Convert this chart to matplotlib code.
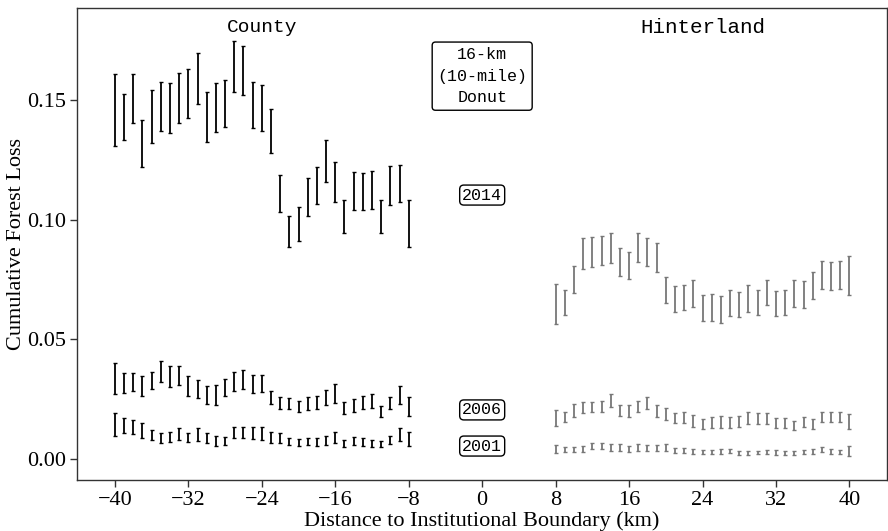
#
# Cumulative forest loss by distance to the institutional boundary
#    - error bars for 2001, 2006 and 2014, county side vs. hinterland side
#

import matplotlib
matplotlib.use('Agg')
import matplotlib.pyplot as plt
import numpy as np

# distance bins (km)
countyDist = list(range(-40, -7))
hinterDist = list(range(8, 41))

# county side, lower / upper ends of each interval
county2014Lo = [0.1310, 0.1334, 0.1404, 0.1221, 0.1322, 0.1371, 0.1361, 0.1404, 0.1426, 0.1482, 0.1325,
                0.1368, 0.1386, 0.1534, 0.1522, 0.1383, 0.1369, 0.1277, 0.1032, 0.0886, 0.0912, 0.1014,
                0.1066, 0.1158, 0.1074, 0.0943, 0.1039, 0.1041, 0.1046, 0.0944, 0.1061, 0.1075, 0.0886]
county2014Hi = [0.1611, 0.1527, 0.1608, 0.1417, 0.1541, 0.1577, 0.1570, 0.1614, 0.1631, 0.1697, 0.1535,
                0.1571, 0.1582, 0.1748, 0.1728, 0.1574, 0.1563, 0.1463, 0.1187, 0.1014, 0.1052, 0.1176,
                0.1219, 0.1333, 0.1241, 0.1084, 0.1201, 0.1197, 0.1205, 0.1084, 0.1224, 0.1229, 0.1082]

county2006Lo = [0.0272, 0.0277, 0.0285, 0.0263, 0.0292, 0.0320, 0.0301, 0.0311, 0.0265, 0.0255, 0.0228,
                0.0226, 0.0262, 0.0285, 0.0292, 0.0276, 0.0279, 0.0230, 0.0207, 0.0207, 0.0198, 0.0205,
                0.0207, 0.0226, 0.0233, 0.0187, 0.0195, 0.0209, 0.0212, 0.0177, 0.0207, 0.0230, 0.0180]
county2006Hi = [0.0400, 0.0358, 0.0361, 0.0347, 0.0365, 0.0410, 0.0390, 0.0390, 0.0347, 0.0330, 0.0306,
                0.0309, 0.0334, 0.0362, 0.0370, 0.0351, 0.0351, 0.0286, 0.0260, 0.0256, 0.0244, 0.0258,
                0.0265, 0.0288, 0.0312, 0.0237, 0.0251, 0.0263, 0.0270, 0.0223, 0.0260, 0.0306, 0.0258]

county2001Lo = [0.0098, 0.0107, 0.0103, 0.0088, 0.0079, 0.0068, 0.0071, 0.0079, 0.0071, 0.0075, 0.0066,
                0.0056, 0.0060, 0.0086, 0.0086, 0.0082, 0.0079, 0.0068, 0.0068, 0.0059, 0.0054, 0.0058,
                0.0056, 0.0060, 0.0066, 0.0051, 0.0059, 0.0054, 0.0051, 0.0049, 0.0063, 0.0075, 0.0056]
county2001Hi = [0.0191, 0.0173, 0.0163, 0.0149, 0.0121, 0.0110, 0.0114, 0.0128, 0.0110, 0.0131, 0.0110,
                0.0096, 0.0093, 0.0132, 0.0132, 0.0132, 0.0132, 0.0111, 0.0107, 0.0089, 0.0084, 0.0086,
                0.0086, 0.0096, 0.0111, 0.0079, 0.0091, 0.0086, 0.0079, 0.0075, 0.0098, 0.0131, 0.0111]

# hinterland side
hinter2014Lo = [0.0565, 0.0602, 0.0694, 0.0794, 0.0804, 0.0811, 0.0820, 0.0763, 0.0752, 0.0822, 0.0807,
                0.0781, 0.0653, 0.0614, 0.0623, 0.0635, 0.0575, 0.0575, 0.0568, 0.0598, 0.0592, 0.0614,
                0.0602, 0.0642, 0.0598, 0.0603, 0.0637, 0.0632, 0.0667, 0.0710, 0.0706, 0.0710, 0.0685]
hinter2014Hi = [0.0730, 0.0706, 0.0808, 0.0922, 0.0928, 0.0932, 0.0943, 0.0880, 0.0866, 0.0943, 0.0925,
                0.0901, 0.0762, 0.0723, 0.0728, 0.0749, 0.0685, 0.0691, 0.0681, 0.0705, 0.0699, 0.0726,
                0.0707, 0.0749, 0.0702, 0.0705, 0.0747, 0.0744, 0.0783, 0.0826, 0.0823, 0.0826, 0.0847]

hinter2006Lo = [0.0139, 0.0156, 0.0177, 0.0191, 0.0198, 0.0198, 0.0216, 0.0180, 0.0177, 0.0195, 0.0207,
                0.0177, 0.0163, 0.0149, 0.0149, 0.0135, 0.0127, 0.0128, 0.0131, 0.0131, 0.0135, 0.0145,
                0.0145, 0.0145, 0.0128, 0.0128, 0.0121, 0.0135, 0.0125, 0.0156, 0.0153, 0.0153, 0.0124]
hinter2006Hi = [0.0205, 0.0198, 0.0228, 0.0240, 0.0240, 0.0244, 0.0272, 0.0226, 0.0226, 0.0244, 0.0260,
                0.0226, 0.0212, 0.0193, 0.0195, 0.0184, 0.0166, 0.0174, 0.0180, 0.0174, 0.0181, 0.0198,
                0.0193, 0.0191, 0.0170, 0.0170, 0.0160, 0.0174, 0.0166, 0.0198, 0.0195, 0.0198, 0.0188]

hinter2001Lo = [0.0024, 0.0028, 0.0028, 0.0031, 0.0040, 0.0040, 0.0035, 0.0035, 0.0031, 0.0035, 0.0033,
                0.0033, 0.0033, 0.0024, 0.0024, 0.0021, 0.0021, 0.0021, 0.0021, 0.0024, 0.0017, 0.0017,
                0.0020, 0.0021, 0.0017, 0.0017, 0.0017, 0.0021, 0.0021, 0.0031, 0.0021, 0.0021, 0.0013]
hinter2001Hi = [0.0059, 0.0052, 0.0052, 0.0054, 0.0065, 0.0065, 0.0061, 0.0061, 0.0056, 0.0061, 0.0059,
                0.0059, 0.0061, 0.0045, 0.0045, 0.0042, 0.0038, 0.0038, 0.0040, 0.0042, 0.0033, 0.0035,
                0.0035, 0.0038, 0.0038, 0.0033, 0.0035, 0.0038, 0.0040, 0.0052, 0.0040, 0.0038, 0.0056]

yearLabels = ['2014', '2006', '2001']
yearLabelY = [0.1103, 0.0205, 0.0054]

xTicks = [-40, -32, -24, -16, -8, 0, 8, 16, 24, 32, 40]
yTicks = [0.00, 0.05, 0.10, 0.15]


def drawBars(ax, x, lo, hi, color):
	lo = np.array(lo)
	hi = np.array(hi)
	mid = (lo + hi) / 2
	ax.errorbar(x, mid, yerr=(hi - lo) / 2, fmt='none', ecolor=color,
		elinewidth=1.3, capsize=1.3, capthick=1.0)


plt.rcParams['font.family'] = ['Liberation Serif', 'DejaVu Serif']
mono = ['Liberation Mono', 'DejaVu Sans Mono']

fig = plt.figure(figsize=(8.88, 5.31), dpi=100)
ax = fig.add_axes([0.087, 0.096, 0.912, 0.889])

drawBars(ax, countyDist, county2014Lo, county2014Hi, 'black')
drawBars(ax, countyDist, county2006Lo, county2006Hi, 'black')
drawBars(ax, countyDist, county2001Lo, county2001Hi, 'black')
drawBars(ax, hinterDist, hinter2014Lo, hinter2014Hi, '#777777')
drawBars(ax, hinterDist, hinter2006Lo, hinter2006Hi, '#777777')
drawBars(ax, hinterDist, hinter2001Lo, hinter2001Hi, '#777777')

ax.text(-24, 0.1805, 'County', family=mono, fontsize=14, ha='center', va='center')
ax.text(24, 0.1805, 'Hinterland', family=mono, fontsize=15, ha='center', va='center')

ax.text(0, 0.160, '16-km\n(10-mile)\nDonut', family=mono, fontsize=12, ha='center', va='center',
	linespacing=1.55, bbox=dict(boxstyle='round,pad=0.3,rounding_size=0.2', fc='white', ec='black', lw=1))

for lab, yv in zip(yearLabels, yearLabelY):
	ax.text(0, yv, lab, family=mono, fontsize=12, ha='center', va='center',
		bbox=dict(boxstyle='round,pad=0.15,rounding_size=0.25', fc='white', ec='black', lw=1))

ax.set_xlim(-44.1, 44.1)
ax.set_ylim(-0.0088, 0.1885)
ax.set_xticks(xTicks)
ax.set_yticks(yTicks)
ax.set_yticklabels(['%.2f' % v for v in yTicks])
ax.tick_params(labelsize=16, length=5, width=1, color='#333333', pad=3)
for sp in ax.spines.values():
	sp.set_color('#333333')
	sp.set_linewidth(1)

ax.set_xlabel('Distance to Institutional Boundary (km)', fontsize=16, labelpad=1)
ax.set_ylabel('Cumulative Forest Loss', fontsize=16, labelpad=1)

plt.savefig('out.png')
